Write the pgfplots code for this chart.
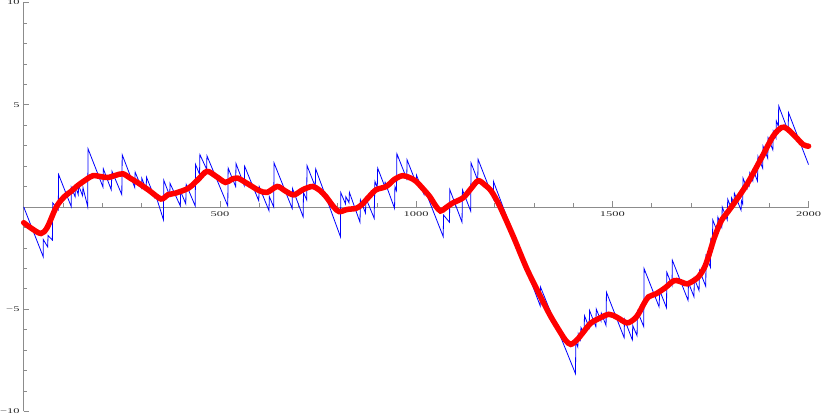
\documentclass[border=0pt]{standalone}
\usepackage{fontspec}
\setmainfont{Liberation Serif}
\usepackage{graphicx}
\usepackage{pgfplots}
\pgfplotsset{compat=1.18}
\newcommand\sq[1]{\scalebox{1}[0.58]{#1}}
\definecolor{axgray}{gray}{0.55}
\begin{document}
\begin{tikzpicture}
\begin{axis}[
 scale only axis, width=781pt, height=407pt,
 xmin=0,xmax=2000,ymin=-10,ymax=10,
 axis lines=middle,
 axis line style={draw=axgray,line width=0.6pt,-},
 xtick={500,1000,1500,2000}, xticklabels={\sq{500},\sq{1000},\sq{1500},\sq{2000}},
 ytick={-10,-5,5,10}, yticklabels={\sq{−10},\sq{−5},\sq{5},\sq{10}},
 minor xtick={100,200,300,400,600,700,800,900,1100,1200,1300,1400,1600,1700,1800,1900},
 minor ytick={-9,-8,-7,-6,-4,-3,-2,-1,1,2,3,4,6,7,8,9},
 tick align=inside,
 major tick length=5.5pt, minor tick length=3.5pt,
 tick style={draw=axgray, line width=0.5pt},
 ticklabel style={font=\fontsize{12.4}{14}\selectfont, text=black!85, inner sep=0pt},
 xticklabel style={anchor=north, yshift=-4.5pt},
 yticklabel style={anchor=east, xshift=-4pt},
 clip=false,
]
\addplot[blue, line width=0.8pt, line join=miter] coordinates {
(0,0)(50,-2.45)(50,-1.6)(61,-1.95)(62,-1.4)(73,-1.62)(74,0.2)(88,-0.15)(89,1.58)(121,0.02)(121,0.97)(131,0.5)(132,1.0)(139,0.6)(140,1.05)(150,0.55)(151,0.95)(163,0.02)(164,2.84)(202,0.97)(203,1.86)(223,0.84)(225,1.74)(250,0.6)(251,2.55)(283,0.95)(284,1.7)(300,0.95)(301,1.4)(312,0.85)(313,1.45)(334,0.45)(336,0.6)(356,-0.62)(357,1.3)(372,0.55)(373,1.15)(399,0.05)(400,0.75)(413,0.15)(414,1.1)(437,0.05)(438,2.07)(448,1.6)(449,2.56)(466,1.85)(467,2.5)(520,0.05)(521,1.9)(540,1.0)(541,2.12)(562,1.05)(563,1.99)(599,0.3)(600,1.0)(625,-0.18)(626,0.5)(637,0.0)(638,2.15)(684,-0.07)(685,0.9)(712,-0.48)(713,0.7)(721,0.35)(722,2.02)(743,0.99)(744,1.86)(807,-1.45)(808,0.7)(820,0.15)(821,0.5)(829,0.2)(830,0.71)(857,-0.75)(858,0.35)(871,-0.3)(872,0.43)(893,-0.55)(895,1.25)(901,0.95)(902,1.9)(920,1.0)(921,1.2)(945,-0.07)(946,1.0)(950,0.8)(951,2.6)(976,1.38)(977,2.3)(1000,1.17)(1001,1.55)(1020,0.62)(1021,0.9)(1069,-1.45)(1070,-0.4)(1085,-0.75)(1086,0.84)(1117,-0.75)(1118,0.84)(1139,-0.2)(1140,2.15)(1157,1.3)(1158,2.32)(1197,0.4)(1197,1.25)(1316,-4.83)(1317,-3.92)(1406,-8.15)(1407,-6.6)(1412,-6.85)(1413,-6.2)(1419,-6.5)(1420,-5.89)(1428,-6.2)(1429,-5.32)(1441,-5.9)(1442,-5.07)(1458,-5.85)(1459,-4.99)(1471,-5.57)(1472,-5.2)(1484,-5.8)(1485,-4.17)(1530,-6.39)(1531,-5.5)(1551,-6.5)(1552,-5.8)(1563,-6.3)(1564,-5.1)(1580,-5.85)(1581,-3.02)(1619,-4.88)(1621,-4.1)(1638,-4.93)(1639,-3.2)(1652,-3.84)(1653,-2.61)(1693,-4.57)(1694,-3.7)(1708,-4.39)(1709,-3.5)(1721,-4.09)(1722,-3.1)(1738,-3.88)(1739,-2.4)(1750,-2.95)(1751,-1.6)(1755,-1.8)(1756,-0.64)(1768,-1.23)(1769,-0.5)(1779,-1.0)(1780,0.0)(1793,-0.64)(1794,0.38)(1803,-0.06)(1804,0.45)(1810,0.15)(1811,0.67)(1828,-0.16)(1829,0.3)(1832,0.15)(1833,1.41)(1843,0.92)(1844,1.3)(1849,1.05)(1850,1.66)(1858,1.27)(1859,1.8)(1870,1.26)(1871,2.48)(1883,1.9)(1884,2.97)(1896,2.38)(1897,3.38)(1909,2.79)(1910,3.71)(1917,3.37)(1918,4.2)(1923,3.95)(1924,4.94)(1948,3.71)(1949,4.61)(2000,2.07)
};
\addplot[red, line width=5.5pt, smooth, line cap=round] coordinates {
(0,-0.77)(20,-1.05)(44,-1.3)(60,-1.0)(83,0.0)(104,0.51)(120,0.75)(138,1.05)(160,1.35)(177,1.53)(200,1.47)(215,1.44)(235,1.55)(253,1.62)(272,1.4)(292,1.17)(320,0.8)(350,0.39)(368,0.6)(386,0.67)(420,0.92)(445,1.35)(467,1.74)(490,1.5)(514,1.2)(530,1.35)(545,1.41)(565,1.2)(582,1.0)(600,0.8)(620,0.71)(646,1.0)(665,0.8)(688,0.59)(712,0.85)(736,1.0)(755,0.8)(770,0.51)(790,0.0)(804,-0.23)(825,-0.12)(847,-0.07)(862,0.12)(880,0.5)(898,0.84)(924,1.0)(945,1.35)(966,1.53)(985,1.42)(1000,1.25)(1018,0.88)(1035,0.5)(1050,0.05)(1062,-0.2)(1075,-0.05)(1092,0.18)(1120,0.45)(1140,0.9)(1158,1.28)(1175,1.08)(1192,0.76)(1214,0.0)(1248,-1.46)(1282,-3.02)(1316,-4.35)(1340,-5.25)(1360,-5.9)(1380,-6.5)(1394,-6.72)(1410,-6.5)(1425,-6.15)(1444,-5.7)(1461,-5.5)(1491,-5.25)(1512,-5.4)(1537,-5.67)(1555,-5.5)(1566,-5.25)(1580,-4.75)(1592,-4.4)(1611,-4.25)(1635,-3.95)(1658,-3.6)(1680,-3.7)(1692,-3.76)(1718,-3.45)(1735,-2.95)(1747,-2.3)(1760,-1.5)(1777,-0.7)(1794,-0.25)(1811,0.2)(1845,1.17)(1880,2.4)(1910,3.47)(1931,3.88)(1944,3.84)(1965,3.47)(1986,3.05)(2000,2.97)
};
\end{axis}
\end{tikzpicture}
\end{document}
